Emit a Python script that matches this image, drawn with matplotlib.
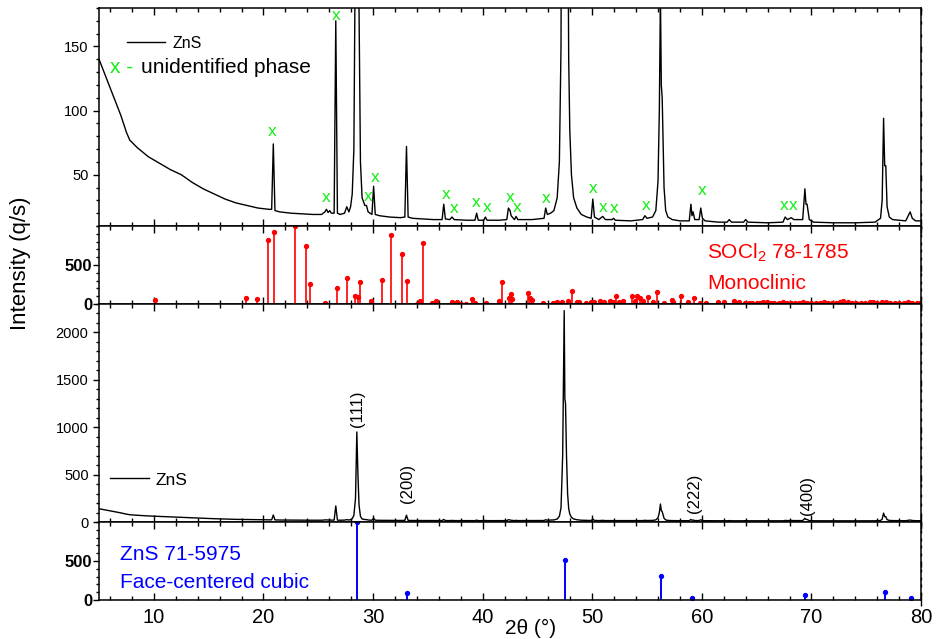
import numpy as np
import matplotlib.pyplot as plt
from matplotlib.ticker import MultipleLocator, FixedLocator

plt.rcParams['font.family'] = ['Liberation Sans', 'DejaVu Sans']
plt.rcParams['mathtext.fontset'] = 'custom'
plt.rcParams['mathtext.rm'] = 'Liberation Sans'
plt.rcParams['mathtext.it'] = 'Liberation Sans:italic'
plt.rcParams['mathtext.bf'] = 'Liberation Sans:bold'

two_theta = [5.0, 5.5, 6.0, 6.5, 7.0, 7.5, 7.8, 8.5, 9.5, 10.5, 11.5, 12.5, 13.5, 14.5,
             15.5, 16.5, 17.5, 18.5, 19.5, 20.5, 20.75, 20.9, 21.05, 21.5, 22.5, 23.5,
             24.5, 25.3, 25.6, 25.75, 25.9, 26.05, 26.2, 26.45, 26.6, 26.75, 27.0, 27.4,
             27.6, 27.8, 27.95, 28.1, 28.25, 28.4, 28.52, 28.62, 28.72, 28.85, 29.0,
             29.25, 29.4, 29.55, 29.9, 30.05, 30.2, 30.6, 31.5, 32.5, 32.9, 33.05, 33.2,
             33.6, 34.5, 35.5, 36.3, 36.45, 36.6, 37.0, 37.2, 37.4, 38.5, 39.3, 39.45,
             39.6, 40.1, 40.25, 40.4, 41.5, 42.2, 42.35, 42.5, 42.6, 42.9, 43.05, 43.2,
             44.5, 45.6, 45.75, 45.9, 46.2, 46.5, 46.8, 47.0, 47.15, 47.3, 47.44, 47.5,
             47.56, 47.65, 47.75, 47.85, 47.95, 48.1, 48.3, 48.6, 49.0, 49.5, 49.9,
             50.05, 50.2, 50.6, 50.95, 51.2, 51.8, 51.95, 52.1, 53.5, 54.6, 54.8, 55.0,
             55.5, 55.8, 56.0, 56.12, 56.22, 56.3, 56.38, 56.45, 56.55, 56.7, 56.9, 57.3,
             58.0, 58.85, 59.0, 59.1, 59.2, 59.35, 59.75, 59.9, 60.05, 60.3, 61.5, 62.3,
             62.5, 62.7, 63.8, 64.0, 64.2, 66.0, 67.4, 67.6, 67.8, 68.15, 68.4, 69.2,
             69.4, 69.5, 69.6, 69.8, 70.2, 72.0, 74.0, 75.8, 76.3, 76.45, 76.58, 76.68,
             76.78, 76.9, 77.1, 77.4, 78.6, 79.0, 79.2, 79.5, 80.0]
intensity = [140, 129, 118, 107, 96, 83, 77, 71, 64, 59, 54, 50, 44, 39,
             35, 31, 28, 26, 24, 23, 23, 74, 22, 21, 20, 19.5,
             19, 19, 21, 23, 20.5, 22, 20, 20, 170, 20, 19, 20,
             25, 21, 25, 35, 70, 250, 950, 500, 180, 60, 32,
             26, 26, 21, 19, 41, 19, 18, 17, 16.5, 17, 72, 17,
             16, 15.5, 15, 15, 27, 15.5, 15, 17, 15, 14.5, 14.5, 20,
             14.5, 14.5, 17, 14.5, 14.5, 15, 24, 22, 18, 15, 17.5, 15,
             15, 16, 24, 19, 20, 22, 32, 60, 150, 700, 2230, 1300,
             1250, 700, 300, 140, 85, 50, 32, 24, 19, 17, 16,
             31, 17, 15, 17.5, 15, 15, 16, 14.5, 14, 15, 18, 16,
             17, 22, 45, 100, 190, 120, 110, 80, 40, 22, 17, 15,
             14, 14, 27, 18, 21, 15, 15, 24, 16, 14, 13, 13,
             15, 13, 13, 15, 13, 12.5, 13, 17, 15, 16.5, 15, 15,
             39, 27, 27, 15, 13, 12.5, 12.5, 13, 16, 30, 94, 57,
             57, 25, 17, 15, 14, 21, 16, 14, 14]

# unidentified-phase marks in the top panel
x_marks = [20.83, 25.76, 26.6, 29.55, 30.16, 36.64, 37.37, 39.44, 40.41, 42.48, 43.18,
           45.77, 50.08, 51.0, 52.0, 54.89, 60.06, 67.5, 68.33]
y_marks = [83.4, 32.4, 174, 33.2, 47.6, 34.3, 23.4, 28.1, 24.6, 32, 24.6,
           31.2, 39, 24.6, 23.4, 25.7, 37.5, 25.7, 25.7]

# SOCl2 78-1785 reference sticks
socl2_pos = [10.15, 18.37, 19.37, 20.4, 20.92, 22.86, 23.84, 24.23, 25.6, 26.67, 27.58,
             28.37, 28.59, 28.77, 29.77, 30.8, 31.65, 32.6, 33.11, 34.02, 34.24, 34.54,
             35.34, 35.73, 37.2, 37.67, 38.04, 38.46, 39.04, 39.29, 40.35, 41.48, 41.78,
             42.39, 42.55, 42.7, 44.1, 44.3, 44.5, 45.5, 46.4, 46.8, 47.2, 47.8, 48.11,
             48.6, 48.8, 49.4, 49.9, 50.2, 50.7, 51.1, 51.6, 51.9, 52.2, 52.4, 52.8,
             53.6, 53.9, 54.1, 54.33, 54.6, 55.05, 55.5, 55.92, 56.5, 57.23, 57.4, 58.1,
             58.7, 59.3, 59.8, 60.4, 61.5, 62.05, 62.9, 63.4, 63.9, 64.3, 64.6, 65.0,
             65.3, 65.6, 65.9, 66.3, 66.6, 67.0, 67.4, 67.8, 68.1, 68.5, 68.9, 69.2,
             69.6, 70.0, 70.4, 70.8, 71.1, 71.5, 71.9, 72.2, 72.6, 72.9, 73.3, 73.7,
             74.1, 74.5, 74.9, 75.3, 75.6, 76.0, 76.4, 76.8, 77.2, 77.6, 78.0, 78.4,
             78.8, 79.2, 79.6, 79.9]
socl2_int = [57, 83, 66, 820, 921, 1000, 741, 258, 17, 211, 333,
             109, 92, 285, 43, 311, 890, 645, 289, 5, 43, 784,
             14, 43, 20, 20, 5, 5, 60, 10, 7, 40, 285,
             79, 131, 66, 145, 83, 50, 10, 13, 20, 20, 43, 162,
             25, 20, 13, 20, 27, 40, 20, 36, 20, 105, 27, 36,
             100, 40, 105, 83, 40, 92, 30, 153, 13, 50, 25, 100,
             25, 83, 10, 10, 30, 25, 36, 25, 10, 13, 8, 15,
             10, 25, 25, 8, 15, 10, 20, 13, 8, 15, 10, 20,
             13, 8, 15, 10, 20, 13, 8, 15, 25, 36, 20, 13,
             10, 15, 8, 20, 25, 13, 25, 20, 15, 8, 15, 10,
             20, 13, 8, 15]

# ZnS 71-5975 reference sticks
zns_pos = [28.55, 33.07, 47.47, 56.29, 59.08, 69.4, 76.7, 79.05]
zns_int = [1000, 94, 513, 308, 22, 68, 99, 22]

hkl_labels = ['(111)', '(200)', '(222)', '(400)']
hkl_x = [28.55, 33.1, 59.3, 69.6]
hkl_y = [1000, 200, 90, 70]

fig = plt.figure(figsize=(9.37, 6.39), dpi=100)
gs = fig.add_gridspec(4, 1, height_ratios=[218, 78, 218, 78], hspace=0,
                      left=0.1057, right=0.983, top=0.9875, bottom=0.061)
axes = [fig.add_subplot(gs[i]) for i in range(4)]

for ax in axes:
    ax.set_xlim(5, 80)
    ax.xaxis.set_major_locator(MultipleLocator(10))
    ax.xaxis.set_minor_locator(MultipleLocator(2))
    ax.tick_params(axis='x', which='both', direction='in', top=True, bottom=True)
    ax.tick_params(axis='x', which='major', length=5, width=1)
    ax.tick_params(axis='x', which='minor', length=3, width=1)
    ax.tick_params(axis='y', which='both', direction='out', right=True)
    ax.tick_params(axis='y', which='major', length=4, width=1, labelsize=10.5)
    ax.tick_params(axis='y', which='minor', length=2.5, width=1)
    for s in ax.spines.values():
        s.set_linewidth(1.1)
    if ax is not axes[3]:
        ax.tick_params(axis='x', labelbottom=False)

# top panel: zoomed pattern
ax = axes[0]
ln, = ax.plot(two_theta, intensity, color='black', lw=1.0)
ax.set_ylim(10, 180)
ax.yaxis.set_major_locator(MultipleLocator(50))
ax.yaxis.set_minor_locator(MultipleLocator(10))
for xm, ym in zip(x_marks, y_marks):
    ax.text(xm, ym, 'x', color='#11ee11', fontsize=12.5, ha='center', va='center')
ax.legend([ln], ['ZnS'], loc='center left', bbox_to_anchor=(0.034, 0.838),
          frameon=False, fontsize=11.5, handlelength=2.4, handletextpad=0.45,
          borderaxespad=0, borderpad=0)
ax.text(0.013, 0.729, 'x -', color='#11ee11', fontsize=15, transform=ax.transAxes,
        ha='left', va='center')
ax.text(0.051, 0.729, 'unidentified phase', color='black', fontsize=15,
        transform=ax.transAxes, ha='left', va='center')

# SOCl2 sticks
ax = axes[1]
ax.axhline(0, color='#888888', lw=1.0)
ax.vlines(socl2_pos, 0, socl2_int, color='#ff0000', lw=1.2)
ax.plot(socl2_pos, socl2_int, 'o', color='#ff0000', ms=2.8)
ax.set_ylim(0, 1000)
ax.yaxis.set_major_locator(FixedLocator([0, 500]))
ax.yaxis.set_minor_locator(MultipleLocator(100))
ax.tick_params(axis='y', which='major', labelsize=12, pad=1)
for lbl in ax.get_yticklabels():
    lbl.set_fontweight('bold')
ax.text(0.74, 0.66, 'SOCl$_2$ 78-1785', color='#ff0000', fontsize=15,
        transform=ax.transAxes, ha='left', va='center')
ax.text(0.74, 0.26, 'Monoclinic', color='#ff0000', fontsize=15,
        transform=ax.transAxes, ha='left', va='center')

# full pattern
ax = axes[2]
ln, = ax.plot(two_theta, intensity, color='black', lw=1.0)
ax.set_ylim(0, 2300)
ax.yaxis.set_major_locator(MultipleLocator(500))
ax.yaxis.set_minor_locator(MultipleLocator(100))
for lab, hx, hy in zip(hkl_labels, hkl_x, hkl_y):
    ax.text(hx, hy, lab, rotation=90, fontsize=12, ha='center', va='bottom')
ax.legend([ln], ['ZnS'], loc='center left', bbox_to_anchor=(0.0134, 0.193),
          frameon=False, fontsize=12.5, handlelength=2.25, handletextpad=0.35,
          borderaxespad=0, borderpad=0)

# ZnS sticks
ax = axes[3]
ax.axhline(0, color='#888888', lw=1.0)
ax.vlines(zns_pos, 0, zns_int, color='#0000ff', lw=1.4)
ax.plot(zns_pos, zns_int, 'o', color='#0000ff', ms=2.8)
ax.set_ylim(0, 1000)
ax.yaxis.set_major_locator(FixedLocator([0, 500]))
ax.yaxis.set_minor_locator(MultipleLocator(100))
ax.tick_params(axis='y', which='major', labelsize=12, pad=1)
for lbl in ax.get_yticklabels():
    lbl.set_fontweight('bold')
ax.tick_params(axis='x', labelsize=14.5, pad=6)
ax.text(0.026, 0.58, 'ZnS 71-5975', color='#0000ff', fontsize=15,
        transform=ax.transAxes, ha='left', va='center')
ax.text(0.026, 0.23, 'Face-centered cubic', color='#0000ff', fontsize=15,
        transform=ax.transAxes, ha='left', va='center')

# right-side ticks point inward
for ax in axes:
    for t in ax.yaxis.get_major_ticks() + ax.yaxis.get_minor_ticks():
        t.tick2line.set_marker(3)

fig.text(0.022, 1 - 263 / 639, 'Intensity (q/s)', rotation=90, fontsize=16,
         ha='center', va='center')
fig.text(531 / 937, 1 - 628 / 639, '2\u03b8 (\u00b0)', fontsize=15,
         ha='center', va='center')

fig.savefig('out.png', dpi=100)
